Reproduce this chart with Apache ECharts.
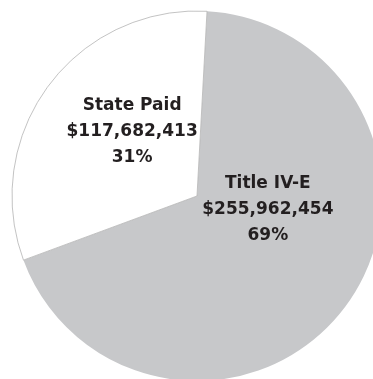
<!DOCTYPE html>
<html>
<head>
<meta charset="utf-8">
<script src="https://cdn.jsdelivr.net/npm/echarts@6/dist/echarts.min.js"></script>
<style>
  html, body { margin: 0; padding: 0; background: #ffffff; }
  #chart { width: 373px; height: 379px; }
</style>
</head>
<body>
<div id="chart"></div>
<script>
// Funding sources
const categories = ['Title IV-E', 'State Paid'];
const amounts = [255962454, 117682413];
const percentLabels = ['69%', '31%'];

const sliceColors = ['#c7c8ca', '#ffffff'];
const labelOffsets = [[-6, -43], [12, -8]];

const fmtMoney = v => '$' + v.toLocaleString('en-US');

const chart = echarts.init(document.getElementById('chart'), null, { renderer: 'canvas' });

chart.setOption({
  animation: false,
  backgroundColor: '#ffffff',
  series: [{
    type: 'pie',
    center: [197, 196],
    radius: 185,
    startAngle: 86.9,
    clockwise: true,
    silent: true,
    data: categories.map((name, i) => ({
      name: name,
      value: amounts[i],
      itemStyle: {
        color: sliceColors[i],
        borderColor: i === 1 ? '#b4b4b4' : sliceColors[i],
        borderWidth: i === 1 ? 0.8 : 0
      },
      label: { offset: labelOffsets[i] }
    })),
    label: {
      show: true,
      position: 'inside',
      color: '#231f20',
      fontFamily: 'DejaVu Sans',
      fontWeight: 'bold',
      fontSize: 17,
      lineHeight: 26,
      align: 'center',
      formatter: p => p.name + '\n' + fmtMoney(p.value) + '\n' + percentLabels[p.dataIndex]
    },
    labelLine: { show: false }
  }]
});
</script>
</body>
</html>
